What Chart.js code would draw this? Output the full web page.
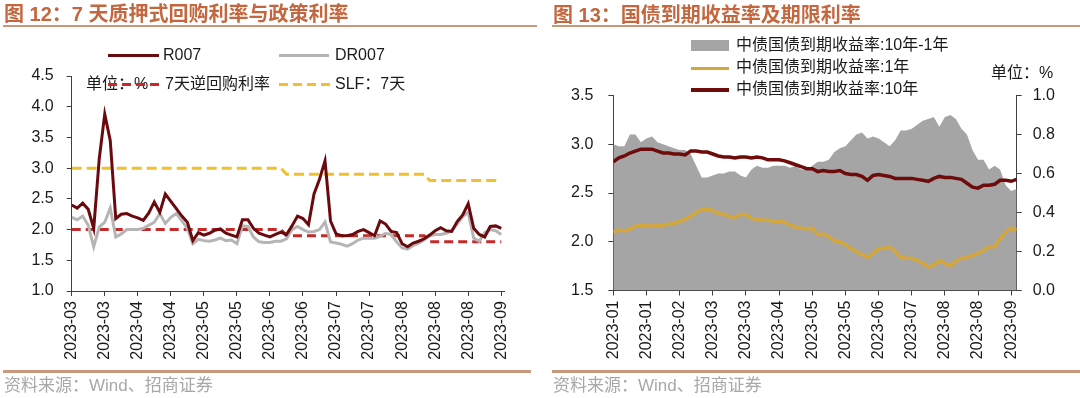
<!DOCTYPE html>
<html><head><meta charset="utf-8">
<script src="https://cdn.jsdelivr.net/npm/chart.js"></script>
<style>
html,body{margin:0;padding:0;background:#fff;}
#wrap{position:relative;width:1080px;height:398px;overflow:hidden;font-family:"Liberation Sans","Noto Sans CJK SC",sans-serif;}
canvas{position:absolute;top:0;}
.t{position:absolute;white-space:nowrap;}
.title{font-family:"Liberation Sans","Noto Sans CJK SC",sans-serif;font-size:20px;font-weight:bold;color:#c4673f;line-height:24px;}
.rule{position:absolute;background:#c9977a;}
.src{font-size:17px;color:#a8a8a8;line-height:20px;}
.lg{font-size:16px;color:#1a1a1a;line-height:20px;}
.sw{position:absolute;height:3px;}
</style></head>
<body><div id="wrap">
<canvas id="c1" width="540" height="398" style="left:0;width:540px;height:398px"></canvas>
<canvas id="c2" width="540" height="398" style="left:540px;width:540px;height:398px"></canvas>

<div class="t title" style="left:4px;top:2px">图 12：7 天质押式回购利率与政策利率</div>
<div class="rule" style="left:3px;top:25px;width:534px;height:2px"></div>
<div class="t lg" style="left:163px;top:45px">R007</div>
<div class="sw" style="left:108px;top:54px;width:51px;background:#6b0a0e"></div>
<div class="t lg" style="left:335px;top:45px">DR007</div>
<div class="sw" style="left:279px;top:54px;width:50px;background:#b5b5b5"></div>
<div class="t lg" style="left:86px;top:74px">单位：%</div>
<div class="sw" style="left:108px;top:83px;width:52px;background:repeating-linear-gradient(90deg,#c42a2a 0 9px,transparent 9px 14px)"></div>
<div class="t lg" style="left:165px;top:74px">7天逆回购利率</div>
<div class="sw" style="left:279px;top:83px;width:52px;background:repeating-linear-gradient(90deg,#f0c030 0 9px,transparent 9px 14px)"></div>
<div class="t lg" style="left:335px;top:74px">SLF：7天</div>
<div class="rule" style="left:3px;top:370px;width:528px;height:3px"></div>
<div class="t src" style="left:4px;top:376px">资料来源：Wind、招商证券</div>

<div class="t title" style="left:553px;top:3px">图 13：国债到期收益率及期限利率</div>
<div class="rule" style="left:552px;top:25px;width:528px;height:2px"></div>
<div class="sw" style="left:691px;top:40px;width:38px;height:11px;background:#a5a5a5"></div>
<div class="t lg" style="left:736px;top:35px">中债国债到期收益率:10年-1年</div>
<div class="sw" style="left:691px;top:67px;width:38px;background:#d4a73c"></div>
<div class="t lg" style="left:736px;top:57px">中债国债到期收益率:1年</div>
<div class="sw" style="left:691px;top:88px;width:38px;height:4px;background:#6e0b0b"></div>
<div class="t lg" style="left:736px;top:79px">中债国债到期收益率:10年</div>
<div class="t lg" style="left:991px;top:63px">单位：%</div>
<div class="rule" style="left:552px;top:370px;width:528px;height:3px"></div>
<div class="t src" style="left:553px;top:376px">资料来源：Wind、招商证券</div>
</div>
<script>
// ---------- Figure 12 data ----------
const leftTickLabels = ['2023-03','2023-03','2023-04','2023-04','2023-05','2023-05','2023-06','2023-06','2023-07','2023-07','2023-08','2023-08','2023-08','2023-09'];
const r007 = [
2.40,2.35,2.43,2.33,2.02,3.15,3.88,3.45,2.18,2.25,
2.26,2.22,2.19,2.15,2.27,2.45,2.28,2.58,2.46,2.34,
2.22,2.12,1.82,1.95,1.91,1.94,1.99,2.01,1.94,1.91,
1.88,2.16,2.16,2.02,1.94,1.91,1.88,1.92,1.96,1.92,
2.06,2.22,2.18,2.08,2.58,2.82,3.12,2.14,1.93,1.90,
1.90,1.92,1.97,2.00,1.95,1.90,2.14,2.09,1.97,1.95,
1.77,1.72,1.78,1.81,1.85,1.91,1.98,2.03,1.98,1.97,
2.13,2.24,2.42,2.02,1.92,1.88,2.05,2.06,2.02];
const dr007 = [
2.20,2.16,2.22,2.07,1.72,2.04,2.12,2.35,1.88,1.93,
2.00,2.00,2.00,2.02,2.07,2.12,2.26,2.10,2.20,2.26,
2.14,2.02,1.77,1.84,1.82,1.81,1.83,1.86,1.82,1.83,
1.77,2.06,2.05,1.88,1.80,1.79,1.79,1.81,1.81,1.85,
2.00,2.05,2.00,1.96,1.97,2.00,2.12,1.80,1.78,1.76,
1.73,1.77,1.83,1.86,1.86,1.86,1.89,1.94,1.92,1.80,
1.70,1.68,1.74,1.78,1.83,1.90,1.92,1.92,1.94,1.98,
2.09,2.21,2.28,1.86,1.81,1.95,2.00,1.98,1.92];
const reverseRepo7d = [
2.0,2.0,2.0,2.0,2.0,2.0,2.0,2.0,2.0,2.0,
2.0,2.0,2.0,2.0,2.0,2.0,2.0,2.0,2.0,2.0,
2.0,2.0,2.0,2.0,2.0,2.0,2.0,2.0,2.0,2.0,
2.0,2.0,2.0,2.0,2.0,2.0,2.0,2.0,2.0,1.9,
1.9,1.9,1.9,1.9,1.9,1.9,1.9,1.9,1.9,1.9,
1.9,1.9,1.9,1.9,1.9,1.9,1.9,1.9,1.9,1.9,
1.9,1.9,1.9,1.9,1.9,1.8,1.8,1.8,1.8,1.8,
1.8,1.8,1.8,1.8,1.8,1.8,1.8,1.8,1.8];
const slf7d = [
3.0,3.0,3.0,3.0,3.0,3.0,3.0,3.0,3.0,3.0,
3.0,3.0,3.0,3.0,3.0,3.0,3.0,3.0,3.0,3.0,
3.0,3.0,3.0,3.0,3.0,3.0,3.0,3.0,3.0,3.0,
3.0,3.0,3.0,3.0,3.0,3.0,3.0,3.0,3.0,2.9,
2.9,2.9,2.9,2.9,2.9,2.9,2.9,2.9,2.9,2.9,
2.9,2.9,2.9,2.9,2.9,2.9,2.9,2.9,2.9,2.9,
2.9,2.9,2.9,2.9,2.9,2.8,2.8,2.8,2.8,2.8,
2.8,2.8,2.8,2.8,2.8,2.8,2.8,2.8,2.8];
const leftYTicks = [1.0,1.5,2.0,2.5,3.0,3.5,4.0,4.5];

// ---------- Figure 13 data ----------
const rightTickLabels = ['2023-01','2023-01','2023-02','2023-03','2023-03','2023-04','2023-05','2023-05','2023-06','2023-07','2023-08','2023-08','2023-09'];
const spread10y1y = [
0.75,0.74,0.74,0.80,0.80,0.76,0.78,0.79,0.76,0.75,
0.74,0.73,0.72,0.72,0.70,0.64,0.58,0.58,0.59,0.60,
0.60,0.61,0.61,0.59,0.58,0.62,0.64,0.63,0.63,0.64,
0.64,0.64,0.63,0.64,0.62,0.62,0.64,0.66,0.66,0.67,
0.71,0.73,0.74,0.77,0.80,0.81,0.78,0.79,0.78,0.76,
0.74,0.77,0.82,0.82,0.83,0.85,0.87,0.88,0.89,0.84,
0.89,0.90,0.88,0.83,0.80,0.72,0.67,0.67,0.62,0.64,
0.62,0.54,0.51,0.52];
const yield1y = [
2.10,2.12,2.11,2.13,2.16,2.17,2.17,2.16,2.17,2.17,
2.18,2.19,2.21,2.23,2.26,2.30,2.33,2.33,2.32,2.29,
2.28,2.26,2.25,2.28,2.28,2.24,2.23,2.22,2.22,2.21,
2.21,2.20,2.17,2.15,2.14,2.13,2.14,2.07,2.08,2.05,
2.01,2.00,1.97,1.93,1.90,1.87,1.84,1.88,1.93,1.93,
1.95,1.90,1.84,1.83,1.83,1.81,1.78,1.74,1.76,1.81,
1.78,1.75,1.80,1.83,1.84,1.86,1.88,1.91,1.95,1.95,
2.03,2.10,2.14,2.12];
const yield10y = [
2.82,2.86,2.88,2.91,2.93,2.95,2.95,2.95,2.93,2.91,
2.91,2.90,2.90,2.89,2.93,2.93,2.92,2.92,2.90,2.88,
2.87,2.87,2.86,2.87,2.87,2.86,2.87,2.86,2.84,2.84,
2.84,2.83,2.81,2.79,2.77,2.75,2.75,2.72,2.73,2.72,
2.72,2.73,2.70,2.69,2.69,2.67,2.63,2.68,2.69,2.68,
2.67,2.65,2.65,2.65,2.65,2.64,2.63,2.62,2.65,2.67,
2.66,2.66,2.65,2.64,2.60,2.56,2.55,2.58,2.58,2.59,
2.63,2.63,2.62,2.64];

// ---------- helpers ----------
const pts = arr => arr.map((v,i)=>({x:i,y:v}));
const tickFont = {family:'Liberation Sans', size:16};
const axisColor = '#404040';
const txtColor = '#1a1a1a';

// ---------- Chart 1 ----------
const leftStep = (r007.length - 1) / (leftTickLabels.length - 1);
new Chart(document.getElementById('c1'), {
  type:'line',
  data:{datasets:[
    {label:'R007', data:pts(r007), borderColor:'#6b0a0e', borderWidth:3, order:0},
    {label:'DR007', data:pts(dr007), borderColor:'#b5b5b5', borderWidth:3, order:1},
    {label:'7天逆回购利率', data:pts(reverseRepo7d), borderColor:'#c42a2a', borderWidth:3, borderDash:[9,5], order:2},
    {label:'SLF：7天', data:pts(slf7d), borderColor:'#f0c030', borderWidth:3, borderDash:[10,5], order:3}
  ]},
  options:{
    responsive:false, animation:false, devicePixelRatio:1,
    layout:{padding:{left:0, right:36, top:76, bottom:37}},
    plugins:{legend:{display:false}, tooltip:{enabled:false}},
    elements:{line:{tension:0}, point:{radius:0}},
    scales:{
      x:{type:'linear', min:0, max:r007.length - 0.5,
        afterBuildTicks:s=>{ s.ticks = leftTickLabels.map((l,k)=>({value:k*leftStep})); },
        ticks:{autoSkip:false, maxRotation:90, minRotation:90, font:tickFont, color:txtColor, padding:5,
          callback:v=>leftTickLabels[Math.round(v/leftStep)]},
        grid:{drawOnChartArea:false, drawTicks:true, tickLength:5, color:axisColor},
        border:{color:axisColor, width:1},
        afterFit:s=>{ s.height = 70; }
      },
      y:{min:leftYTicks[0], max:leftYTicks[leftYTicks.length-1],
        afterBuildTicks:s=>{ s.ticks = leftYTicks.map(v=>({value:v})); },
        ticks:{font:tickFont, color:txtColor, padding:13, callback:v=>v.toFixed(1)},
        grid:{drawOnChartArea:false, drawTicks:true, tickLength:5, color:axisColor},
        border:{color:axisColor, width:1},
        afterFit:s=>{ s.width = 71.7; }
      }
    }
  }
});

// ---------- Chart 2 ----------
const rightStep = 6;
new Chart(document.getElementById('c2'), {
  type:'line',
  data:{datasets:[
    {label:'中债国债到期收益率:10年', data:pts(yield10y), borderColor:'#6e0b0b', borderWidth:3.5, yAxisID:'y', order:0},
    {label:'中债国债到期收益率:1年', data:pts(yield1y), borderColor:'#d4a73c', borderWidth:3.5, yAxisID:'y', order:1},
    {label:'中债国债到期收益率:10年-1年', data:pts(spread10y1y), borderColor:'rgba(0,0,0,0)', borderWidth:0,
      backgroundColor:'#a5a5a5', fill:'origin', yAxisID:'y1', order:2}
  ]},
  options:{
    responsive:false, animation:false, devicePixelRatio:1,
    layout:{padding:{left:0, right:3.3, top:95.5, bottom:37.5}},
    plugins:{legend:{display:false}, tooltip:{enabled:false}},
    elements:{line:{tension:0}, point:{radius:0}},
    scales:{
      x:{type:'linear', min:0, max:yield10y.length - 1,
        afterBuildTicks:s=>{ s.ticks = rightTickLabels.map((l,k)=>({value:k*rightStep})); },
        ticks:{autoSkip:false, maxRotation:90, minRotation:90, font:tickFont, color:txtColor, padding:5,
          callback:v=>rightTickLabels[Math.round(v/rightStep)]},
        grid:{drawOnChartArea:false, drawTicks:true, tickLength:5, color:axisColor},
        border:{color:axisColor, width:1},
        afterFit:s=>{ s.height = 70; }
      },
      y:{position:'left', min:1.5, max:3.5,
        ticks:{stepSize:0.5, font:tickFont, color:txtColor, padding:15, callback:v=>v.toFixed(1)},
        grid:{drawOnChartArea:false, drawTicks:true, tickLength:5, color:axisColor},
        border:{color:axisColor, width:1},
        afterFit:s=>{ s.width = 73.3; }
      },
      y1:{position:'right', min:0, max:1.0,
        ticks:{stepSize:0.2, font:tickFont, color:txtColor, padding:11, callback:v=>v.toFixed(1)},
        grid:{drawOnChartArea:false, drawTicks:true, tickLength:5, color:axisColor},
        border:{color:axisColor, width:1},
        afterFit:s=>{ s.width = 60; }
      }
    }
  }
});
</script>
</body></html>
